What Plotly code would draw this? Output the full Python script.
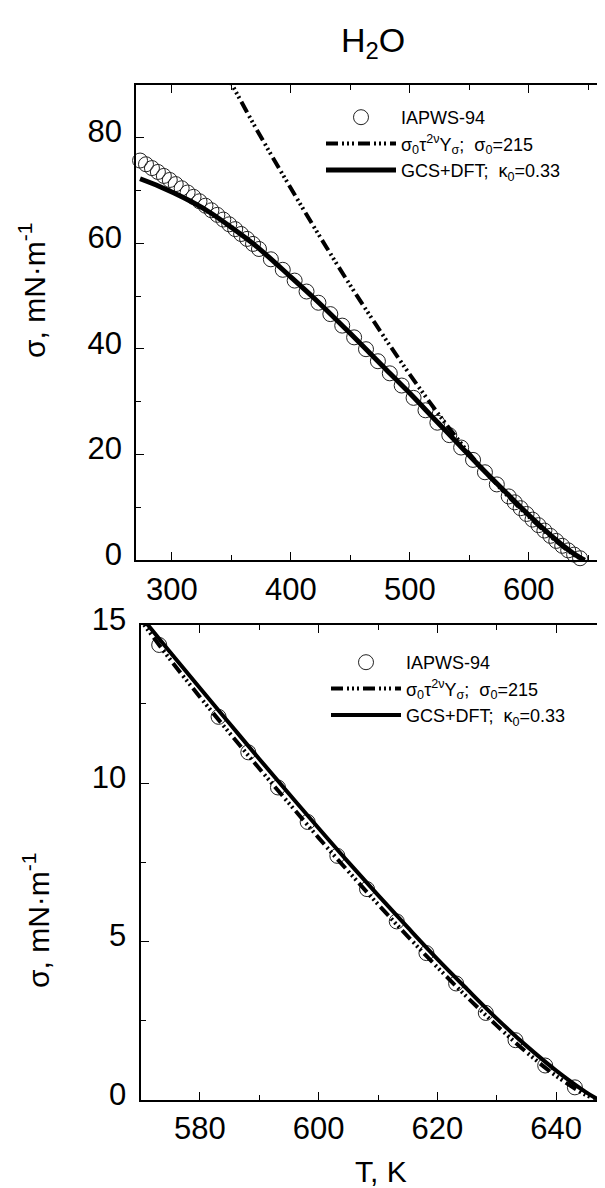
import plotly.graph_objects as go

# ---------------- data ----------------
# IAPWS-94 reference points (T in K, sigma in mN/m)
T_iapws = [273.16, 278.15, 283.15, 288.15, 293.15, 298.15, 303.15, 308.15, 313.15, 318.15,
           323.15, 328.15, 333.15, 338.15, 343.15, 348.15, 353.15, 358.15, 363.15, 368.15,
           373.15, 383.15, 393.15, 403.15, 413.15, 423.15, 433.15, 443.15, 453.15, 463.15,
           473.15, 483.15, 493.15, 503.15, 513.15, 523.15, 533.15, 543.15, 553.15, 563.15,
           573.15, 583.15, 588.15, 593.15, 598.15, 603.15, 608.15, 613.15, 618.15, 623.15,
           628.15, 633.15, 638.15, 643.15]
S_iapws = [75.65, 74.94, 74.22, 73.49, 72.74, 71.97, 71.19, 70.40, 69.60, 68.78,
           67.94, 67.10, 66.24, 65.37, 64.48, 63.58, 62.67, 61.75, 60.82, 59.87,
           58.91, 56.96, 54.97, 52.93, 50.86, 48.74, 46.59, 44.41, 42.19, 39.95,
           37.67, 35.38, 33.07, 30.74, 28.39, 26.04, 23.69, 21.34, 19.00, 16.66,
           14.36, 12.09, 10.97, 9.86, 8.77, 7.70, 6.65, 5.63, 4.63, 3.67,
           2.74, 1.88, 1.08, 0.39]

# sigma0 tau^(2nu) Y_sigma ; sigma0 = 215 (top panel)
T_scal_top = [345, 350.4, 370, 390, 410, 430, 450, 470, 490, 510, 530, 550, 560, 570,
              580, 600, 620, 640, 647.1]
S_scal_top = [92.0, 90.0, 82.0, 74.2, 66.6, 59.2, 52.0, 45.1, 38.4, 32.0, 25.9, 20.2, 17.6, 15.15,
              12.72, 8.27, 4.18, 0.75, 0.0]

# GCS+DFT ; kappa0 = 0.33 (top panel)
T_dft_top = [273.15, 290, 310, 330, 350, 370, 400, 420, 450, 480, 500, 520, 540, 560,
             580, 600, 620, 635, 640, 645, 647.1]
S_dft_top = [72.2, 70.7, 68.6, 66.1, 63.0, 59.6, 53.6, 49.5, 42.9, 36.1, 31.6, 26.9, 22.2, 17.5,
             13.0, 8.57, 4.44, 1.70, 0.92, 0.24, 0.0]

# bottom panel (near-critical zoom)
T_scal_bot = [569, 570, 575, 580, 585, 590, 595, 600, 605, 610, 615, 620, 625, 630,
              635, 640, 645, 647.1]
S_scal_bot = [15.4, 15.15, 13.90, 12.72, 11.58, 10.46, 9.36, 8.27, 7.21, 6.17, 5.16, 4.18, 3.24, 2.34,
              1.50, 0.75, 0.15, 0.0]
T_dft_bot = [569, 570, 575, 580, 585, 590, 595, 600, 605, 610, 615, 620, 625, 630,
             635, 640, 645, 647.1]
S_dft_bot = [15.52, 15.28, 14.13, 13.0, 11.88, 10.76, 9.66, 8.57, 7.50, 6.46, 5.44, 4.44, 3.49, 2.56,
             1.70, 0.92, 0.24, 0.0]

top_xticks = [300, 400, 500, 600]
top_yticks = [0, 20, 40, 60, 80]
bot_xticks = [580, 600, 620, 640]
bot_yticks = [0, 5, 10, 15]

name_data = "IAPWS-94"
name_scal = "σ<sub>0</sub>τ<sup>2ν</sup>Y<sub>σ</sub>;  σ<sub>0</sub>=215"
name_dft = "GCS+DFT;  κ<sub>0</sub>=0.33"

FONT = "Liberation Sans, Arial, Helvetica, sans-serif"
DASH = "12px,4px,2px,3px,2px,3px,2px,4px"

# ---------------- figure ----------------
fig = go.Figure()

T_bot_pts = [t for t in T_iapws if t >= 570]
S_bot_pts = [s for t, s in zip(T_iapws, S_iapws) if t >= 570]

# top panel
fig.add_trace(go.Scatter(x=T_iapws, y=S_iapws, mode="markers", name=name_data,
                         marker=dict(symbol="circle-open", size=15, color="#222",
                                     line=dict(width=1, color="#222")),
                         cliponaxis=False, xaxis="x", yaxis="y", legend="legend"))
fig.add_trace(go.Scatter(x=T_scal_top, y=S_scal_top, mode="lines", name=name_scal,
                         line=dict(color="black", width=4, dash=DASH, shape="spline"),
                         xaxis="x", yaxis="y", legend="legend"))
fig.add_trace(go.Scatter(x=T_dft_top, y=S_dft_top, mode="lines", name=name_dft,
                         line=dict(color="black", width=5, shape="spline"),
                         xaxis="x", yaxis="y", legend="legend"))

# bottom panel
fig.add_trace(go.Scatter(x=T_bot_pts, y=S_bot_pts, mode="markers", name=name_data,
                         marker=dict(symbol="circle-open", size=15, color="#222",
                                     line=dict(width=1, color="#222")),
                         cliponaxis=False, xaxis="x2", yaxis="y2", legend="legend2"))
fig.add_trace(go.Scatter(x=T_scal_bot, y=S_scal_bot, mode="lines", name=name_scal,
                         line=dict(color="black", width=4, dash=DASH, shape="spline"),
                         xaxis="x2", yaxis="y2", legend="legend2"))
fig.add_trace(go.Scatter(x=T_dft_bot, y=S_dft_bot, mode="lines", name=name_dft,
                         line=dict(color="black", width=4, shape="spline"),
                         xaxis="x2", yaxis="y2", legend="legend2"))

W, H = 605, 1188


def px_x(p):
    return p / W


def px_y(p):
    return 1 - p / H


axis_common = dict(showline=True, linewidth=2, linecolor="black", mirror="ticks",
                   ticks="inside", ticklen=8, tickwidth=1, tickcolor="black",
                   showgrid=False, zeroline=False, automargin=False,
                   tickfont=dict(family=FONT, size=31, color="black"))

fig.update_layout(
    width=W, height=H, margin=dict(l=0, r=0, t=0, b=0, autoexpand=False),
    paper_bgcolor="white", plot_bgcolor="white",
    font=dict(family=FONT, color="black"),
    xaxis=dict(domain=[px_x(128.3), px_x(604)], range=[270, 670], anchor="y",
               tickvals=top_xticks,
               minor=dict(dtick=50, tick0=250, ticks="inside", ticklen=5, tickcolor="black"),
               **axis_common),
    yaxis=dict(domain=[px_y(552.3), px_y(76.7)], range=[0, 90], anchor="x",
               tickvals=top_yticks, ticklabelshift=-6, ticklabelstandoff=6,
               minor=dict(dtick=10, tick0=0, ticks="inside", ticklen=5, tickcolor="black"),
               **axis_common),
    xaxis2=dict(domain=[px_x(132.5), px_x(604)], range=[570, 649.4], anchor="y2",
                tickvals=bot_xticks,
                minor=dict(dtick=10, tick0=570, ticks="inside", ticklen=5, tickcolor="black"),
                **axis_common),
    yaxis2=dict(domain=[px_y(1091.7), px_y(616.7)], range=[0, 15], anchor="x2",
                tickvals=bot_yticks, ticklabelshift=-6, ticklabelstandoff=6,
                minor=dict(dtick=2.5, tick0=0, ticks="inside", ticklen=5, tickcolor="black"),
                **axis_common),
    legend=dict(x=px_x(313), y=px_y(91), xanchor="left", yanchor="top",
                bgcolor="rgba(0,0,0,0)", font=dict(family=FONT, size=18, color="black"),
                itemwidth=70, tracegroupgap=0),
    legend2=dict(x=px_x(318), y=px_y(636), xanchor="left", yanchor="top",
                 bgcolor="rgba(0,0,0,0)", font=dict(family=FONT, size=18, color="black"),
                 itemwidth=70, tracegroupgap=0),
    showlegend=True,
)

fig.add_annotation(text="H<sub>2</sub>O", x=px_x(365), y=px_y(35), xref="paper", yref="paper",
                   showarrow=False, font=dict(family=FONT, size=34, color="black"),
                   xanchor="center", yanchor="middle")
fig.add_annotation(text="σ, mN·m<sup>-1</sup>", x=px_x(24), y=px_y(282), xref="paper", yref="paper",
                   showarrow=False, textangle=-90, font=dict(family=FONT, size=30, color="black"),
                   xanchor="center", yanchor="middle")
fig.add_annotation(text="σ, mN·m<sup>-1</sup>", x=px_x(28), y=px_y(912), xref="paper", yref="paper",
                   showarrow=False, textangle=-90, font=dict(family=FONT, size=30, color="black"),
                   xanchor="center", yanchor="middle")
fig.add_annotation(text="T, K", x=px_x(373), y=px_y(1163), xref="paper", yref="paper",
                   showarrow=False, font=dict(family=FONT, size=30, color="black"),
                   xanchor="center", yanchor="middle")

fig.write_html("out.html")
